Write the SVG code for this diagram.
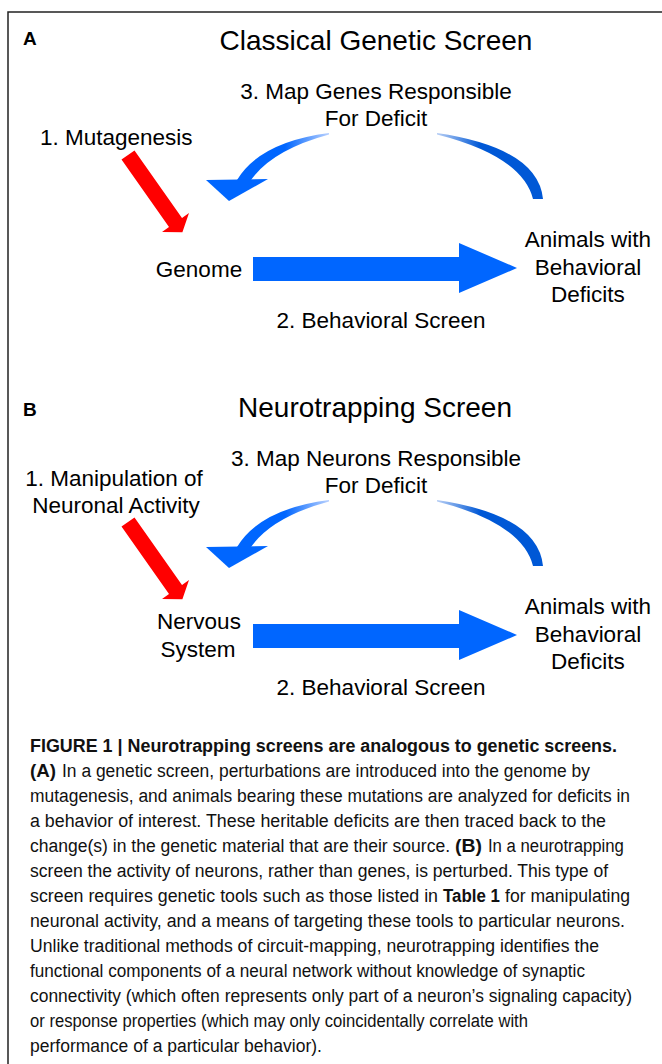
<svg xmlns="http://www.w3.org/2000/svg" width="662" height="1064" viewBox="0 0 662 1064">
<style>
.t{font-family:"Liberation Sans",Arial,sans-serif;font-size:22.5px;fill:#000}
.tm{text-anchor:middle}
.title{font-family:"Liberation Sans",Arial,sans-serif;font-size:28px;fill:#000;text-anchor:middle}
.lbl{font-family:"Liberation Sans",Arial,sans-serif;font-size:19px;font-weight:bold;fill:#000}
.cap{font-family:"Liberation Sans",Arial,sans-serif;font-size:19px;fill:#111}
.b{font-weight:bold}
.red{fill:#ff0000}
.blue{fill:#0066ff}
</style>
<defs>
<linearGradient id="gL" gradientUnits="userSpaceOnUse" x1="330" y1="0" x2="285" y2="0">
<stop offset="0" stop-color="#bcd3ff"/><stop offset="1" stop-color="#0066ff"/>
</linearGradient>
<linearGradient id="gR" gradientUnits="userSpaceOnUse" x1="437" y1="0" x2="480" y2="0">
<stop offset="0" stop-color="#b8cff5"/><stop offset="1" stop-color="#0058d6"/>
</linearGradient>
<g id="arrowset">
<path class="red" d="M121.5,159.6 L134.5,150.4 L182,217.9 L189,213 L182.4,232.3 L162,232 L169,227.1 Z"/>
<polygon class="blue" points="253,257 459,257 459,243 517,268 459,293 459,281 253,281"/>
<path fill="url(#gL)" d="M329,133 Q260,142 237,180 L251,180 Q272,150 329,134.5 Z"/>
<polygon class="blue" points="206,180 268,179 229,201"/>
<path fill="url(#gR)" d="M437,133 Q538,148 543,199 L533,199 Q522,156 437,134.5 Z"/>
</g>
</defs>
<rect x="8" y="12" width="670" height="1070" fill="none" stroke="#222" stroke-width="1.5"/>
<g id="connectors">
<use href="#arrowset"/>
<use href="#arrowset" transform="translate(0,367)"/>
</g>
<g id="panelA">
<text class="lbl" x="23" y="45">A</text>
<text class="title" x="376" y="50">Classical Genetic Screen</text>
</g>
<g id="nodeA-map"><text class="t tm" x="376" y="99">3. Map Genes Responsible</text><text class="t tm" x="376" y="126">For Deficit</text></g>
<g id="nodeA-mut"><text class="t" x="40" y="145">1. Mutagenesis</text></g>
<g id="nodeA-genome"><text class="t tm" x="199" y="277">Genome</text></g>
<g id="nodeA-animals"><text class="t tm" x="588" y="247">Animals with</text><text class="t tm" x="588" y="275">Behavioral</text><text class="t tm" x="588" y="302">Deficits</text></g>
<g id="nodeA-screen"><text class="t tm" x="381" y="328">2. Behavioral Screen</text></g>
<g id="panelB">
<text class="lbl" x="23" y="416">B</text>
<text class="title" x="375" y="417">Neurotrapping Screen</text>
</g>
<g id="nodeB-map"><text class="t tm" x="376" y="466">3. Map Neurons Responsible</text><text class="t tm" x="376" y="493">For Deficit</text></g>
<g id="nodeB-manip"><text class="t tm" x="114" y="486">1. Manipulation of</text><text class="t tm" x="116" y="513">Neuronal Activity</text></g>
<g id="nodeB-nervous"><text class="t tm" x="199" y="629">Nervous</text><text class="t tm" x="198" y="657">System</text></g>
<g id="nodeB-animals"><text class="t tm" x="588" y="614">Animals with</text><text class="t tm" x="588" y="642">Behavioral</text><text class="t tm" x="588" y="669">Deficits</text></g>
<g id="nodeB-screen"><text class="t tm" x="381" y="695">2. Behavioral Screen</text></g>
<g id="caption" transform="translate(30,0) scale(0.87,1)">
<text class="cap b" x="0" y="752" textLength="674.7" lengthAdjust="spacingAndGlyphs">FIGURE 1 | Neurotrapping screens are analogous to genetic screens.</text>
<text class="cap b" x="0" y="777" textLength="29.9" lengthAdjust="spacingAndGlyphs">(A)</text>
<text class="cap" x="36.8" y="777" textLength="606.9" lengthAdjust="spacingAndGlyphs">In a genetic screen, perturbations are introduced into the genome by</text>
<text class="cap" x="0" y="802" textLength="689.7" lengthAdjust="spacingAndGlyphs">mutagenesis, and animals bearing these mutations are analyzed for deficits in</text>
<text class="cap" x="0" y="827" textLength="662.1" lengthAdjust="spacingAndGlyphs">a behavior of interest. These heritable deficits are then traced back to the</text>
<text class="cap" x="0" y="852" textLength="482.8" lengthAdjust="spacingAndGlyphs">change(s) in the genetic material that are their source.</text>
<text class="cap b" x="488.5" y="852" textLength="31" lengthAdjust="spacingAndGlyphs">(B)</text>
<text class="cap" x="526.4" y="852" textLength="156.3" lengthAdjust="spacingAndGlyphs">In a neurotrapping</text>
<text class="cap" x="0" y="877" textLength="664.4" lengthAdjust="spacingAndGlyphs">screen the activity of neurons, rather than genes, is perturbed. This type of</text>
<text class="cap" x="0" y="902" textLength="469" lengthAdjust="spacingAndGlyphs">screen requires genetic tools such as those listed in</text>
<text class="cap b" x="474.7" y="902" textLength="65.5" lengthAdjust="spacingAndGlyphs">Table 1</text>
<text class="cap" x="546" y="902" textLength="143.7" lengthAdjust="spacingAndGlyphs">for manipulating</text>
<text class="cap" x="0" y="927" textLength="683.9" lengthAdjust="spacingAndGlyphs">neuronal activity, and a means of targeting these tools to particular neurons.</text>
<text class="cap" x="0" y="952" textLength="654" lengthAdjust="spacingAndGlyphs">Unlike traditional methods of circuit-mapping, neurotrapping identifies the</text>
<text class="cap" x="0" y="977" textLength="637.9" lengthAdjust="spacingAndGlyphs">functional components of a neural network without knowledge of synaptic</text>
<text class="cap" x="0" y="1002" textLength="692" lengthAdjust="spacingAndGlyphs">connectivity (which often represents only part of a neuron’s signaling capacity)</text>
<text class="cap" x="0" y="1027" textLength="572.4" lengthAdjust="spacingAndGlyphs">or response properties (which may only coincidentally correlate with</text>
<text class="cap" x="0" y="1052" textLength="335.6" lengthAdjust="spacingAndGlyphs">performance of a particular behavior).</text>
</g>
</svg>
